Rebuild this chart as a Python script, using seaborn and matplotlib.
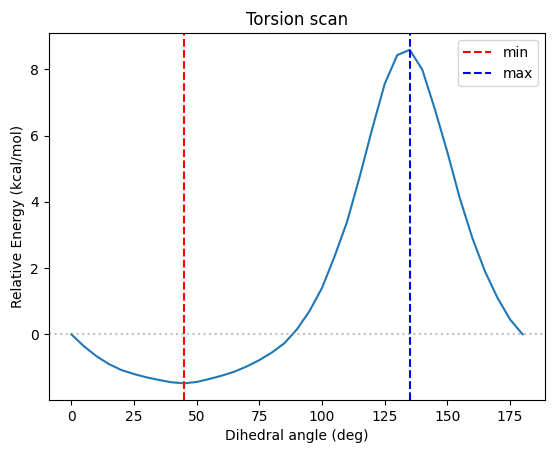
import matplotlib
matplotlib.use("Agg")
import matplotlib.pyplot as plt
import seaborn as sns
import pandas as pd

angles = list(range(0, 181, 5))
energies = [0.0, -0.36, -0.66, -0.9, -1.08, -1.2, -1.3, -1.38, -1.45, -1.48,
            -1.44, -1.35, -1.25, -1.13, -0.97, -0.78, -0.55, -0.27, 0.15, 0.7,
            1.4, 2.35, 3.4, 4.75, 6.2, 7.56, 8.43, 8.59, 7.99, 6.8,
            5.5, 4.1, 2.9, 1.9, 1.1, 0.45, 0.0]
min_angle = 45
max_angle = 135

df = pd.DataFrame({"angle": angles, "energy": energies})

fig = plt.figure(figsize=(5.54, 4.54), dpi=100)
ax = fig.add_axes([0.088, 0.119, 0.896, 0.808])
sns.lineplot(data=df, x="angle", y="energy", ax=ax, color="#1f77b4")
ax.axhline(0, color="gray", linestyle=":", alpha=0.5)
ax.axvline(min_angle, color="red", linestyle="--", label="min")
ax.axvline(max_angle, color="blue", linestyle="--", label="max")
ax.set_xlabel("Dihedral angle (deg)")
ax.set_ylabel("Relative Energy (kcal/mol)")
ax.set_title("Torsion scan")
ax.legend(loc="upper right")
fig.savefig("out.png", dpi=100)
